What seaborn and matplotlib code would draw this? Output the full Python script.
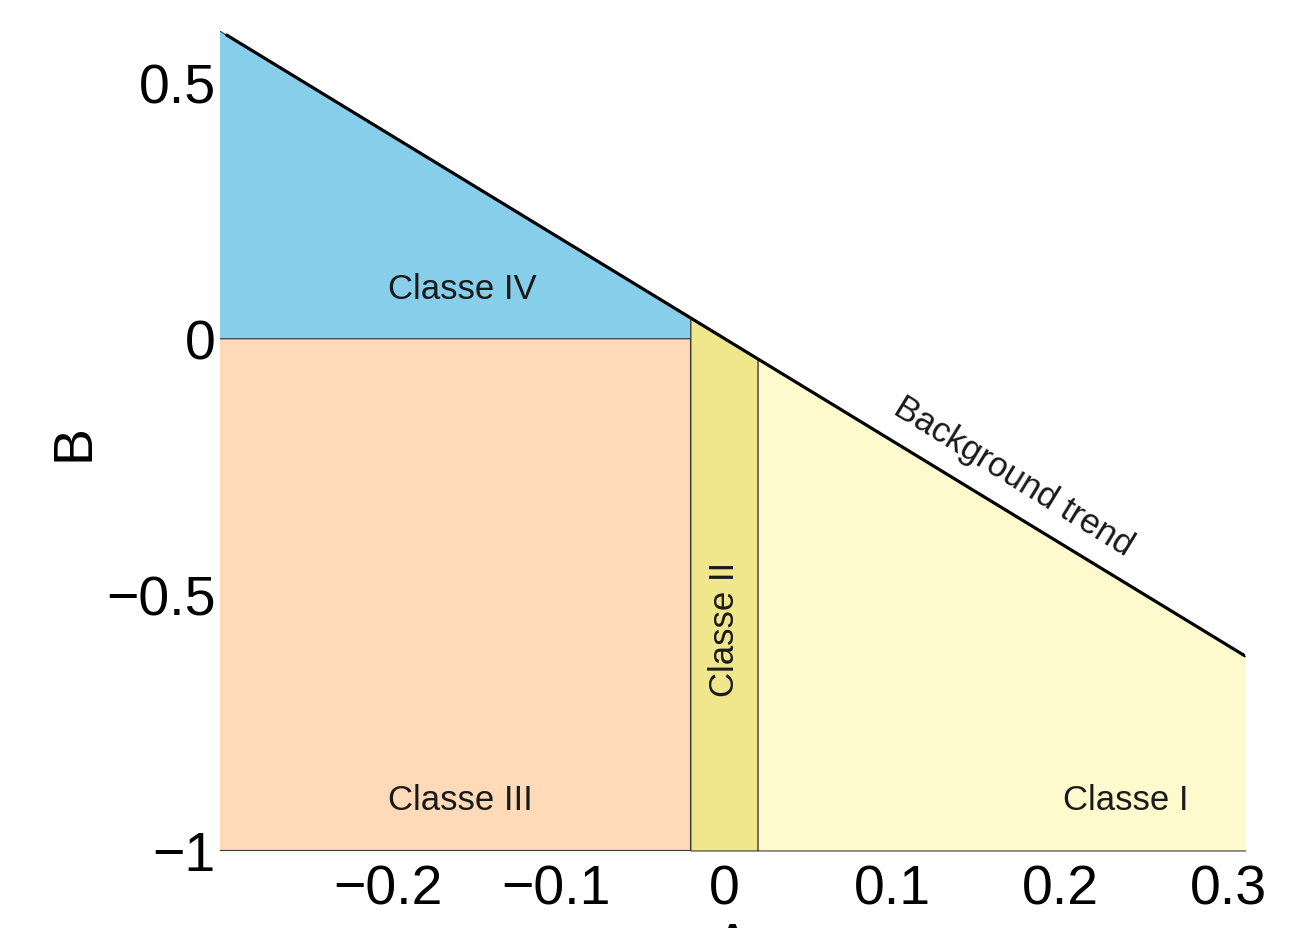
import numpy as np, pandas as pd
import matplotlib; matplotlib.use("Agg")
import matplotlib.pyplot as plt
from matplotlib.ticker import FuncFormatter
import seaborn as sns

# ---- data: class boundaries in (A, B) space ----
A_RANGE = [-0.3, 0.31]          # extent of A
B_FLOOR = -1.0                  # bottom of the classes
SLOPE = -2.0                    # background trend B = SLOPE * A
BAND = [-0.02, 0.02]            # Classe II band around A = 0
X_TICKS = [-0.2, -0.1, 0, 0.1, 0.2, 0.3]
Y_TICKS = [-1, -0.5, 0, 0.5]
CLASS_NAMES = ["Classe I", "Classe II", "Classe III", "Classe IV"]
CLASS_COLORS = ["lemonchiffon", "khaki", "peachpuff", "skyblue"]
LABEL_POS = {"Classe I": (0.239, -0.90), "Classe II": (0.0, -0.566),
             "Classe III": (-0.157, -0.90), "Classe IV": (-0.156, 0.098)}

sns.set_style("white")
plt.rcParams["font.family"] = ["Liberation Sans", "DejaVu Sans"]
plt.rcParams["text.color"] = "black"
plt.rcParams["axes.labelcolor"] = "black"
plt.rcParams["xtick.color"] = "black"
plt.rcParams["ytick.color"] = "black"

trend = lambda a: SLOPE * np.asarray(a)

fig = plt.figure(figsize=(12.93, 9.29), dpi=100)
ax = fig.add_axes([0.1701, 0.0818, 0.7927, 0.8838])

edge = dict(edgecolor="#3a3a3a", linewidth=0.8)
col = dict(zip(CLASS_NAMES, CLASS_COLORS))
pad = 0.002   # push outer patch edges just outside the view

# Classe III: left of band, below zero
a3 = np.array([A_RANGE[0] - pad, BAND[0]])
ax.fill_between(a3, B_FLOOR, 0, facecolor=col["Classe III"], **edge)
# Classe IV: left of band, between zero and trend
a4 = np.linspace(A_RANGE[0] - pad, BAND[0], 50)
ax.fill_between(a4, 0, trend(a4), facecolor=col["Classe IV"], **edge)
# Classe II: band, below trend
a2 = np.linspace(BAND[0], BAND[1], 20)
ax.fill_between(a2, B_FLOOR, trend(a2), facecolor=col["Classe II"], **edge)
# Classe I: right of band, below trend
a1 = np.linspace(BAND[1], A_RANGE[1] + pad, 50)
ax.fill_between(a1, B_FLOOR, trend(a1), facecolor=col["Classe I"], **edge)

# background trend line
line_a = np.linspace(A_RANGE[0] + 0.004, A_RANGE[1], 100)
df = pd.DataFrame({"A": line_a, "B": trend(line_a)})
sns.lineplot(data=df, x="A", y="B", ax=ax, color="black", linewidth=2.3)

for name, (xa, yb) in LABEL_POS.items():
    ax.text(xa, yb, name, ha="center", va="center", fontsize=25,
            rotation=90 if name == "Classe II" else 0, color="#1a1a1a")

ax.text(0.172, -0.268, "Background trend", ha="center", va="center",
        fontsize=25, rotation=-31.6, rotation_mode="anchor", color="#1a1a1a")

ax.set_xlim(A_RANGE)
ax.set_ylim(B_FLOOR - 0.003, 0.6)
ax.set_xticks(X_TICKS); ax.set_yticks(Y_TICKS)
fmt = FuncFormatter(lambda v, _: f"{round(v, 3):g}".replace("-", "\u2212"))
ax.xaxis.set_major_formatter(fmt); ax.yaxis.set_major_formatter(fmt)
ax.tick_params(axis="both", length=0, labelsize=40)
ax.tick_params(axis="x", pad=8)
ax.tick_params(axis="y", pad=3)
for s in ax.spines.values():
    s.set_visible(False)
ax.set_xlabel("A", fontsize=40, labelpad=4)
ax.set_ylabel("B", fontsize=40, labelpad=4)

fig.savefig("out.png", dpi=100)
